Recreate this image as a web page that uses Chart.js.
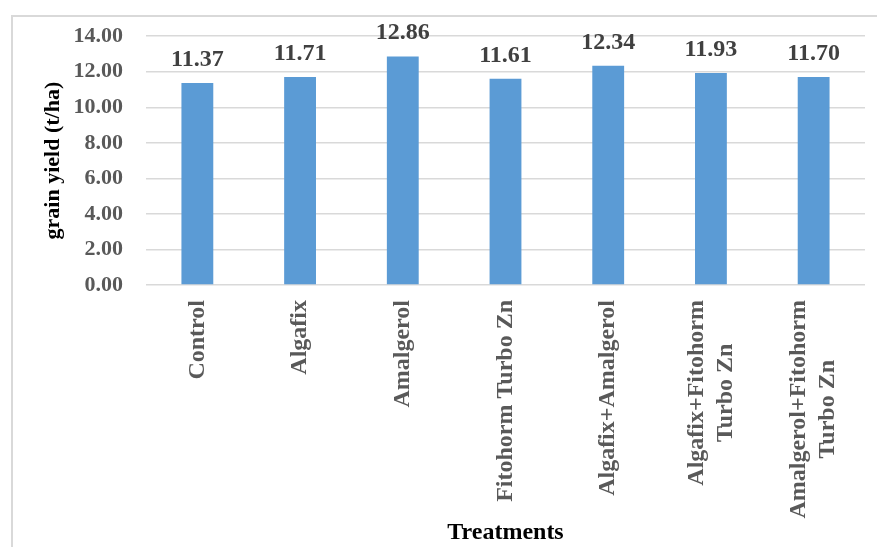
<!DOCTYPE html>
<html>
<head>
<meta charset="utf-8">
<script src="https://cdn.jsdelivr.net/npm/chart.js@4.4.1/dist/chart.umd.min.js"></script>
<style>
  html, body { margin: 0; padding: 0; background: #fff; overflow: hidden; }
  #wrap { position: relative; width: 877px; height: 547px; }
</style>
</head>
<body>
<div id="wrap"><canvas id="chart"></canvas></div>
<script>
// chart data
const treatments = [
    ['Control'],
    ['Algafix'],
    ['Amalgerol'],
    ['Fitohorm Turbo Zn'],
    ['Algafix+Amalgerol'],
    ['Algafix+Fitohorm', 'Turbo Zn'],
    ['Amalgerol+Fitohorm', 'Turbo Zn']
];
const grainYield = [11.37, 11.71, 12.86, 11.61, 12.34, 11.93, 11.70];
const yTicks = [0, 2, 4, 6, 8, 10, 12, 14];

const SERIF = '"Liberation Serif", "Times New Roman", serif';

// outer frame like the Excel chart border
const framePlugin = {
    id: 'frame',
    beforeDraw(chart) {
        const ctx = chart.ctx;
        ctx.save();
        ctx.fillStyle = '#fff';
        ctx.fillRect(0, 0, chart.width, chart.height);
        ctx.strokeStyle = '#d9d9d9';
        ctx.lineWidth = 2;
        ctx.strokeRect(12, 16, 1000, 1000);
        ctx.restore();
    }
};

// value labels above bars + rotated category labels (centered lines)
const labelPlugin = {
    id: 'labels',
    afterDatasetsDraw(chart) {
        const ctx = chart.ctx;
        const meta = chart.getDatasetMeta(0);
        ctx.save();
        ctx.font = 'bold 24px ' + SERIF;
        ctx.fillStyle = '#404040';
        ctx.textAlign = 'center';
        ctx.textBaseline = 'alphabetic';
        meta.data.forEach((bar, i) => {
            ctx.fillText(grainYield[i].toFixed(2), bar.x, bar.y - 17);
        });

        const xs = chart.scales.x;
        const top = chart.chartArea.bottom + 15;
        ctx.fillStyle = '#595959';
        ctx.textBaseline = 'middle';
        treatments.forEach((lines, i) => {
            const x = xs.getPixelForTick(i);
            const w = Math.max(...lines.map(l => ctx.measureText(l).width));
            ctx.save();
            ctx.translate(x, top);
            ctx.rotate(-Math.PI / 2);
            lines.forEach((l, j) => {
                ctx.fillText(l, -w / 2, (j - (lines.length - 1) / 2) * 29);
            });
            ctx.restore();
        });
        ctx.restore();
    }
};

new Chart(document.getElementById('chart'), {
    type: 'bar',
    data: {
        labels: treatments,
        datasets: [{
            data: grainYield,
            backgroundColor: '#5b9bd5',
            categoryPercentage: 1,
            barPercentage: 0.31
        }]
    },
    options: {
        responsive: true,
        maintainAspectRatio: false,
        animation: false,
        layout: { padding: { top: 33, right: 12, left: 0, bottom: 0 } },
        plugins: { legend: { display: false }, tooltip: { enabled: false } },
        scales: {
            x: {
                grid: { display: false },
                border: { display: false },
                ticks: { display: false },
                title: {
                    display: true,
                    text: 'Treatments',
                    color: '#000',
                    font: { family: SERIF, size: 24, weight: 'bold' },
                    padding: { top: 0, bottom: 0 }
                },
                afterFit: s => { s.height = 262; }
            },
            y: {
                min: 0,
                max: 14,
                afterBuildTicks: s => { s.ticks = yTicks.map(v => ({ value: v })); },
                grid: { color: '#d9d9d9', lineWidth: 1.5, drawTicks: false },
                border: { display: false },
                ticks: {
                    padding: 23,
                    color: '#595959',
                    font: { family: SERIF, size: 22, weight: 'bold' },
                    callback: v => v.toFixed(2)
                },
                title: {
                    display: true,
                    text: 'grain yield (t/ha)',
                    color: '#000',
                    font: { family: SERIF, size: 22, weight: 'bold' },
                    padding: { top: 40, bottom: 0 }
                },
                afterFit: s => { s.width = 146; }
            }
        }
    },
    plugins: [framePlugin, labelPlugin]
});
</script>
</body>
</html>
